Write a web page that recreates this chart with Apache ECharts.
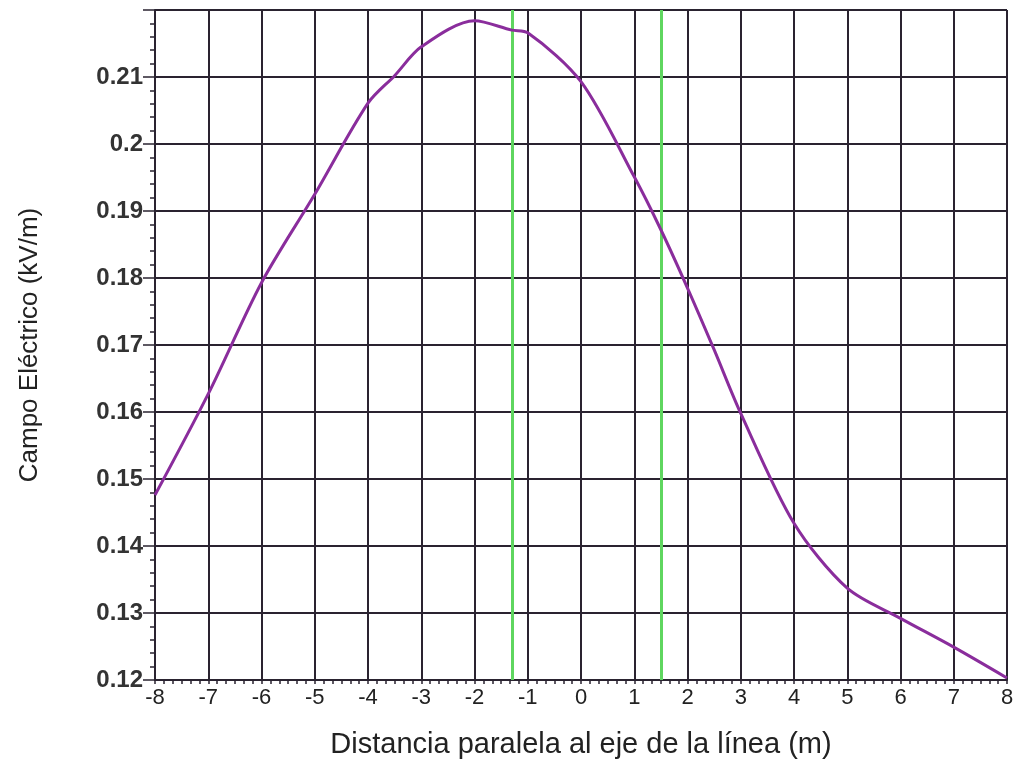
<!DOCTYPE html>
<html><head><meta charset="utf-8">
<script src="https://cdn.jsdelivr.net/npm/echarts@6/dist/echarts.min.js"></script>
<style>html,body{margin:0;padding:0;background:#fff}#c{width:1015px;height:762px}</style>
</head><body><div id="c"></div>
<script>
const xValues = [-8, -7, -6, -5, -4, -3.5, -3, -2, -1.3, -1, 0, 1, 1.5, 2, 2.5, 3, 4, 5, 6, 7, 8];
const fieldValues = [0.1476, 0.1627, 0.1793, 0.1925, 0.2061, 0.2102, 0.2145, 0.2184, 0.2170, 0.2166, 0.2093, 0.1951, 0.1872, 0.1785, 0.1693, 0.1598, 0.1434, 0.1337, 0.1292, 0.1249, 0.1203];
const greenLines = [-1.3, 1.5];
const xTitle = 'Distancia paralela al eje de la línea (m)';
const yTitle = 'Campo Eléctrico (kV/m)';

const chart = echarts.init(document.getElementById('c'));
const gridColor = '#2a2330';
chart.setOption({
  animation: false,
  backgroundColor: '#fff',
  grid: {left: 155, right: 8, top: 10, bottom: 82, containLabel: false, outerBoundsMode: 'none'},
  xAxis: {
    type: 'value', min: -8, max: 8, interval: 1,
    name: xTitle, nameLocation: 'middle', nameGap: 50,
    nameTextStyle: {fontFamily: 'Liberation Sans', fontSize: 29, color: '#222'},
    axisLine: {show: true, onZero: false, lineStyle: {color: gridColor, width: 2}},
    axisTick: {show: true, inside: false, length: 4, lineStyle: {color: gridColor, width: 1.5}},
    minorTick: {show: true, splitNumber: 6, length: 4, lineStyle: {color: gridColor, width: 1.5}},
    axisLabel: {fontFamily: 'Liberation Sans', fontSize: 22, color: '#222', margin: 7},
    splitLine: {show: true, lineStyle: {color: gridColor, width: 2}}
  },
  yAxis: {
    type: 'value', min: 0.12, max: 0.22, interval: 0.01,
    name: yTitle, nameLocation: 'middle', nameGap: 112, nameRotate: 90,
    nameTextStyle: {fontFamily: 'Liberation Sans', fontSize: 26, color: '#222'},
    axisLine: {show: true, onZero: false, lineStyle: {color: gridColor, width: 2}},
    axisTick: {show: true, length: 12, lineStyle: {color: gridColor, width: 1.5}},
    minorTick: {show: true, splitNumber: 5, length: 5, lineStyle: {color: gridColor, width: 1.5}},
    axisLabel: {fontFamily: 'Liberation Sans', fontSize: 24, fontWeight: 'bold', color: '#333', margin: 12,
      showMaxLabel: false,
      formatter: v => String(parseFloat(v.toFixed(3)))},
    splitLine: {show: true, lineStyle: {color: gridColor, width: 2}}
  },
  series: [{
    type: 'line',
    data: xValues.map((x, i) => [x, fieldValues[i]]),
    showSymbol: false,
    smooth: 0.3,
    lineStyle: {color: '#8a2d9c', width: 3},
    z: 5,
    markLine: {
      silent: true, symbol: 'none', label: {show: false},
      lineStyle: {color: '#5fd65f', width: 3, type: 'solid'},
      data: greenLines.map(x => ({xAxis: x}))
    }
  }]
});
</script></body></html>
